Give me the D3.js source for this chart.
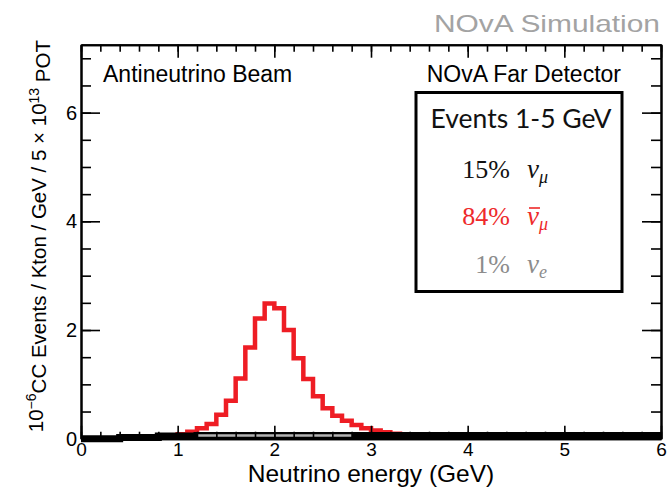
<!DOCTYPE html>
<html>
<head>
<meta charset="utf-8">
<script src="https://cdn.jsdelivr.net/npm/d3@7"></script>
<style>
    body { margin: 0; background: #fff; }
    .axis path, .axis line { stroke: #000; stroke-width: 1.6; }
    .axis .domain { stroke-width: 2; }
    .axis text { font-family: "Liberation Sans", Arial, sans-serif; font-size: 20px; fill: #000; }
    .axis-xlab text { font-size: 19px; }
    .hist { fill: none; stroke-linejoin: miter; }
    .red-hist { stroke: #ee1d24; stroke-width: 4.5; }
    .black-hist { stroke: #000; stroke-width: 7; }
    .grey-hist { stroke: #b4b4b4; stroke-width: 2.5; }
</style>
</head>
<body>
<svg id="chart" width="668" height="488"></svg>
<script>
// histograms, values in 10^-6 CC events / kton / GeV / 5e13 POT
const numubarLo = 0, numubarWidth = 0.1;
const numubar = [
    0.00, 0.00, 0.00, 0.01, 0.01, 0.01, 0.02, 0.02, 0.03, 0.05,
    0.08, 0.13, 0.19, 0.27, 0.44, 0.70, 1.11, 1.68, 2.21, 2.49,
    2.40, 2.00, 1.48, 1.10, 0.78, 0.56, 0.42, 0.33, 0.25, 0.19,
    0.15, 0.12, 0.09, 0.07, 0.06, 0.05, 0.05, 0.04, 0.04, 0.04,
    0.04, 0.04, 0.03, 0.03, 0.03, 0.03, 0.03, 0.03, 0.03, 0.03,
    0.03, 0.03, 0.03, 0.03, 0.03, 0.03, 0.03, 0.03, 0.03, 0.03
];
const numuLo = 0, numuWidth = 0.2;
const numu = [
    0.00, 0.00, 0.02, 0.02, 0.05, 0.05, 0.06, 0.06, 0.06, 0.06,
    0.06, 0.06, 0.06, 0.06, 0.06, 0.06, 0.06, 0.06, 0.06, 0.06,
    0.06, 0.06, 0.06, 0.06, 0.06, 0.06, 0.06, 0.06, 0.06, 0.06
];
const nueLo = 1.2, nueWidth = 0.2;
const nue = [0.06, 0.06, 0.06, 0.06, 0.06, 0.06, 0.06, 0.06];

const xTicks = [0, 1, 2, 3, 4, 5, 6];
const yTicks = [0, 2, 4, 6];

const legendTitle = "Events 1-5 GeV";
const legendRows = [
    {pct: "15%", sym: "ν", bar: false, sub: "μ", color: "#111"},
    {pct: "84%", sym: "ν", bar: true, sub: "μ", color: "#ee2a2a"},
    {pct: "1%", sym: "ν", bar: false, sub: "e", color: "#8c8c8c"}
];

const margin = {t: 44.7, l: 81, r: 7, b: 49.3};
const W = 668, H = 488;
const width = W - margin.l - margin.r;
const height = H - margin.t - margin.b;

const svg = d3.select("#chart");

const scale_x = d3.scaleLinear().domain([0, 6]).range([0, width]);
const scale_y = d3.scaleLinear().domain([0, 7.25]).range([height, 0]);

const plot = svg.append("g").attr("transform", `translate(${margin.l},${margin.t})`);

function binsToPoints(vals, lo, w) {
    const pts = vals.map((v, i) => ({x: lo + i * w, y: v}));
    pts.push({x: lo + vals.length * w, y: vals[vals.length - 1]});
    return pts;
}

const step = d3.line()
    .curve(d3.curveStepAfter)
    .x(d => scale_x(d.x))
    .y(d => scale_y(d.y));

plot.append("path")
    .attr("class", "hist red-hist")
    .attr("d", step(binsToPoints(numubar, numubarLo, numubarWidth)));

plot.append("path")
    .attr("class", "hist black-hist")
    .attr("d", step(binsToPoints(numu, numuLo, numuWidth)));

plot.append("path")
    .attr("class", "hist grey-hist")
    .attr("d", step(binsToPoints(nue, nueLo, nueWidth)));

// axes, ticks pointing inward like ROOT
const minorX = d3.range(0, 6.0001, 0.2).map(v => +v.toFixed(1));
const minorY = d3.range(0, 7.0001, 0.5);

function addAxis(axisFn, scale, ticks, size, transform, labels) {
    const ax = axisFn(scale).tickValues(ticks).tickSize(size).tickSizeOuter(0);
    ax.tickFormat(labels ? d3.format("d") : "");
    return plot.append("g").attr("class", "axis").attr("transform", transform).call(ax);
}

addAxis(d3.axisBottom, scale_x, minorX, -7, `translate(0,${height})`, false);
addAxis(d3.axisBottom, scale_x, xTicks, -13, `translate(0,${height})`, true)
    .classed("axis-xlab", true)
    .call(g => g.selectAll(".tick text").attr("y", 3.5));
addAxis(d3.axisTop, scale_x, minorX, -7, "translate(0,0)", false);
addAxis(d3.axisTop, scale_x, xTicks, -13, "translate(0,0)", false);

addAxis(d3.axisLeft, scale_y, minorY, -10, "translate(0,0)", false);
addAxis(d3.axisLeft, scale_y, yTicks, -19, "translate(0,0)", true)
    .call(g => g.selectAll(".tick text").attr("x", -4));
addAxis(d3.axisRight, scale_y, minorY, -10, `translate(${width},0)`, false);
addAxis(d3.axisRight, scale_y, yTicks, -19, `translate(${width},0)`, false);

// texts
svg.append("text")
    .attr("x", 660).attr("y", 31.5)
    .attr("text-anchor", "end")
    .attr("textLength", 226).attr("lengthAdjust", "spacingAndGlyphs")
    .style("font-family", "Liberation Sans, Arial, sans-serif")
    .style("font-size", "24px").style("fill", "#a3a3a3")
    .text("NOvA Simulation");

svg.append("text")
    .attr("x", 103).attr("y", 82)
    .style("font-family", "Liberation Sans, Arial, sans-serif")
    .style("font-size", "23px")
    .text("Antineutrino Beam");

svg.append("text")
    .attr("x", 621).attr("y", 82)
    .attr("text-anchor", "end")
    .style("font-family", "Liberation Sans, Arial, sans-serif")
    .style("font-size", "23px")
    .text("NOvA Far Detector");

svg.append("text")
    .attr("x", margin.l + width / 2).attr("y", 482)
    .attr("text-anchor", "middle")
    .style("font-family", "Liberation Sans, Arial, sans-serif")
    .style("font-size", "24.5px")
    .text("Neutrino energy (GeV)");

const ytitle = svg.append("text")
    .attr("transform", "translate(43,40) rotate(-90)")
    .attr("text-anchor", "end")
    .style("font-family", "Liberation Sans, Arial, sans-serif")
    .style("font-size", "20.5px");
ytitle.append("tspan").text("10");
ytitle.append("tspan").attr("dy", "-0.5em").style("font-size", "14px").text("−6");
ytitle.append("tspan").attr("dy", "0.5em").text("CC Events / Kton / GeV / 5 × 10");
ytitle.append("tspan").attr("dy", "-0.5em").style("font-size", "14px").text("13");
ytitle.append("tspan").attr("dy", "0.5em").text(" POT");

// legend box
const box = {x: 416, y: 92.5, w: 206, h: 199};
const legend = svg.append("g");
legend.append("rect")
    .attr("x", box.x).attr("y", box.y)
    .attr("width", box.w).attr("height", box.h)
    .attr("fill", "#fff").attr("stroke", "#000").attr("stroke-width", 3);

legend.append("text")
    .attr("x", box.x + box.w / 2 + 2).attr("y", 128)
    .attr("text-anchor", "middle")
    .style("font-family", "Lato, 'Open Sans', sans-serif")
    .style("font-size", "26.5px").style("fill", "#111")
    .text(legendTitle);

const rowY = [178, 225, 273];
legendRows.forEach((r, i) => {
    legend.append("text")
        .attr("x", 510).attr("y", rowY[i])
        .attr("text-anchor", "end")
        .style("font-family", "Liberation Serif, serif")
        .style("font-size", "26px").style("fill", r.color)
        .text(r.pct);
    const t = legend.append("text")
        .attr("x", 527).attr("y", rowY[i])
        .style("font-family", "Liberation Serif, serif")
        .style("font-style", "italic")
        .style("font-size", "27px").style("fill", r.color);
    t.append("tspan").text(r.sym);
    t.append("tspan").attr("dy", "0.3em").style("font-size", "18px").text(r.sub);
    if (r.bar) {
        // antiparticle bar over the nu
        const ext = t.node().getExtentOfChar(0);
        legend.append("line")
            .attr("x1", ext.x + 2).attr("x2", ext.x + ext.width + 1)
            .attr("y1", rowY[i] - 17).attr("y2", rowY[i] - 17)
            .attr("stroke", r.color).attr("stroke-width", 1.6);
    }
});
</script>
</body>
</html>
